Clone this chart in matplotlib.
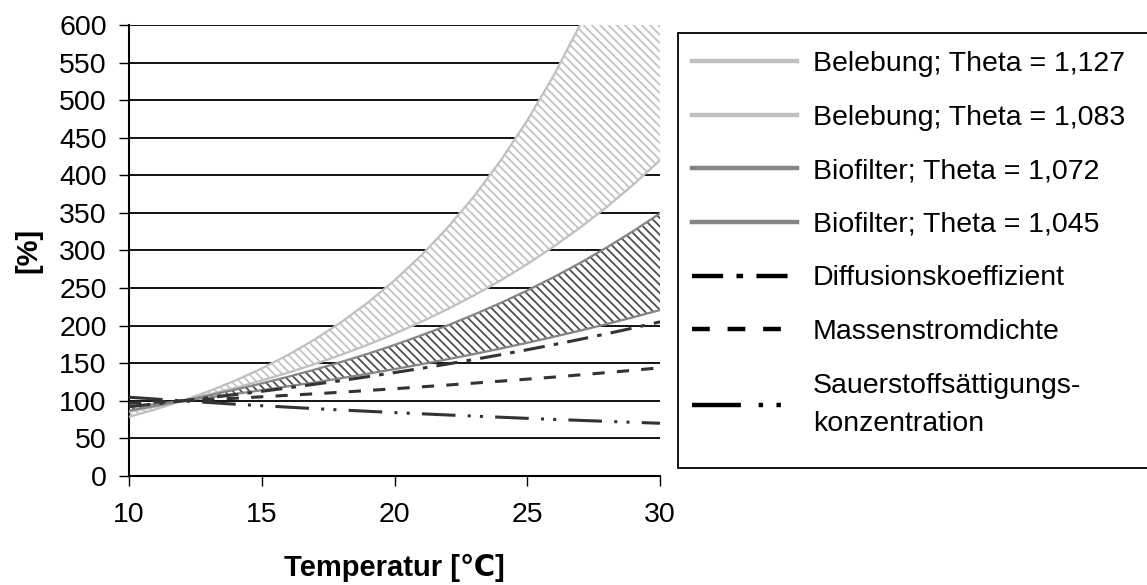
import matplotlib
matplotlib.use("Agg")
import matplotlib.pyplot as plt
from matplotlib.patches import Rectangle

plt.rcParams['font.family'] = ['Liberation Sans', 'DejaVu Sans']
plt.rcParams['hatch.linewidth'] = 1.3

# temperatures in degC and relative values in % (100 % at 12 degC)
temp = list(range(10, 31))
bel_127 = [78.7, 88.7, 100, 112.7, 127.0, 143.1, 161.3, 181.8, 204.9, 230.9, 260.3,
           293.3, 330.6, 372.5, 419.8, 473.2, 533.3, 601.0, 677.3, 763.3, 860.3]
bel_083 = [85.3, 92.3, 100, 108.3, 117.3, 127.0, 137.6, 149.0, 161.4, 174.7, 189.2,
           205.0, 222.0, 240.4, 260.3, 281.9, 305.4, 330.7, 358.1, 387.9, 420.1]
bio_072 = [87.0, 93.3, 100, 107.2, 114.9, 123.2, 132.1, 141.6, 151.8, 162.7, 174.4,
           187.0, 200.4, 214.9, 230.3, 246.9, 264.7, 283.7, 304.2, 326.1, 349.5]
bio_045 = [91.6, 95.7, 100, 104.5, 109.2, 114.1, 119.3, 124.6, 130.2, 136.1, 142.2,
           148.6, 155.3, 162.3, 169.6, 177.2, 185.2, 193.5, 202.2, 211.3, 220.8]
diffusion = [92.3, 96.1, 100, 104.1, 108.3, 112.7, 117.3, 122.1, 127.0, 132.2, 137.6,
             143.2, 149.0, 155.1, 161.4, 168.0, 174.8, 181.9, 189.3, 197.0, 205.1]
massenstrom = [96.7, 98.4, 100, 101.8, 103.4, 105.4, 107.4, 109.4, 111.5, 113.8, 116.1,
               118.6, 121.0, 123.6, 126.2, 128.9, 131.6, 134.6, 137.6, 140.7, 144.0]
sauerstoff = [104.8, 102.4, 100, 97.8, 95.5, 93.5, 91.6, 89.6, 87.8, 86.1, 84.4,
              82.8, 81.2, 79.7, 78.2, 76.7, 75.3, 74.0, 72.7, 71.4, 70.2]

fig = plt.figure(figsize=(11.47, 5.85), dpi=100)
ax = fig.add_axes([0.1125, 0.1863, 0.463, 0.771])

# grid
ax.set_axisbelow(True)
ax.yaxis.grid(True, color='black', linewidth=1.3)

ax.fill_between(temp, bel_083, bel_127, facecolor='white', edgecolor='#c4c4c4',
                hatch='\\\\\\\\', linewidth=0, zorder=2)
ax.fill_between(temp, bio_045, bio_072, facecolor='white', edgecolor='#505050',
                hatch='\\\\\\\\', linewidth=0, zorder=2)

ax.plot(temp, bel_127, color='#c0c0c0', lw=1.6, zorder=3, label='Belebung; Theta = 1,127')
ax.plot(temp, bel_083, color='#c0c0c0', lw=1.6, zorder=3, label='Belebung; Theta = 1,083')
ax.plot(temp, bio_072, color='#858585', lw=1.6, zorder=3, label='Biofilter; Theta = 1,072')
ax.plot(temp, bio_045, color='#858585', lw=1.6, zorder=3, label='Biofilter; Theta = 1,045')
ax.plot(temp, diffusion, color='#333333', lw=2.2, ls=(0, (7, 3, 1.5, 3)), zorder=4,
        label='Diffusionskoeffizient')
ax.plot(temp, massenstrom, color='#333333', lw=2.2, ls=(0, (4, 4)), zorder=4,
        label='Massenstromdichte')
ax.plot(temp, sauerstoff, color='#333333', lw=2.2, ls=(0, (11, 4, 1, 3, 1, 4)), zorder=4,
        label='Sauerstoffsättigungs-\nkonzentration')

ax.set_xlim(10, 30)
ax.set_ylim(0, 600)
ax.set_xticks([10, 15, 20, 25, 30])
ax.set_yticks(range(0, 601, 50))
ax.tick_params(labelsize=20.5, length=7, width=1, direction='out', pad=9)
ax.tick_params(axis='x', pad=12)
for s in ['top', 'right']:
    ax.spines[s].set_visible(False)
for s in ['left', 'bottom']:
    ax.spines[s].set_linewidth(1.5)

ax.set_xlabel('Temperatur [℃]', fontsize=21, fontweight='bold', labelpad=18)
ax.set_ylabel('[%]', fontsize=21, fontweight='bold', labelpad=12)

# legend frame (runs off the right edge like the original)
fig.patches.append(Rectangle((678 / 1147, 1 - 468 / 585), 0.5, 435 / 585,
                             transform=fig.transFigure, facecolor='white',
                             edgecolor='black', linewidth=1.3, zorder=0))

handles, labels = ax.get_legend_handles_labels()
leg = fig.legend(handles, labels, loc='upper left',
                 bbox_to_anchor=(692 / 1147, 1 - 51 / 585),
                 fontsize=20.5, frameon=False, handlelength=3.7,
                 labelspacing=0.97, borderpad=0, borderaxespad=0,
                 handletextpad=0.55)
for t in leg.get_texts():
    t.set_linespacing(1.6)
for line in leg.get_lines():
    line.set_linewidth(3.2)
    if line.get_color() == '#333333':
        line.set_color('black')

fig.savefig('out.png', dpi=100)
